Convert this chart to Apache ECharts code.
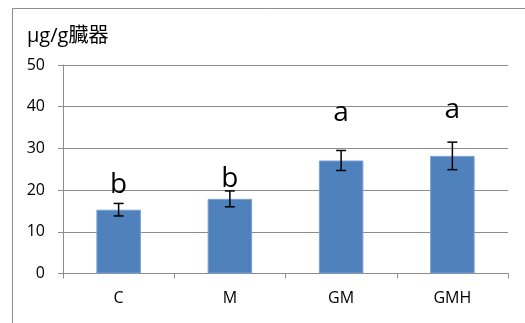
<!DOCTYPE html>
<html>
<head>
<meta charset="utf-8">
<script src="https://cdn.jsdelivr.net/npm/echarts@6/dist/echarts.min.js"></script>
<style>
  html, body { margin: 0; padding: 0; background: #fff; }
  #chart { width: 525px; height: 323px; }
</style>
</head>
<body>
<div id="chart"></div>
<script>
// Organ concentration by group, with error bars and significance letters
const categories = ['C', 'M', 'GM', 'GMH'];
const means = [15.3, 17.9, 27.1, 28.2];
const errors = [1.5, 1.9, 2.4, 3.3];
const letters = ['b', 'b', 'a', 'a'];
// baseline level (in axis units) of each significance letter
const letterLevels = [19.2, 20.8, 36.5, 37.4];
const yTicks = [0, 10, 20, 30, 40, 50];

const chart = echarts.init(document.getElementById('chart'));
const FONT = '"Open Sans", "Noto Sans CJK JP", sans-serif';

chart.setOption({
  animation: false,
  graphic: [{
    type: 'rect',
    shape: { x: 12.5, y: 8.5, width: 600, height: 400 },
    style: { fill: 'none', stroke: '#8c8c8c', lineWidth: 1 },
    silent: true
  }, {
    type: 'text',
    left: 27, top: 26,
    style: { text: 'μg/g臓器', font: '20px ' + FONT, fill: '#000' }
  }],
  grid: { left: 63, right: 17, top: 65, bottom: 49.5 },
  xAxis: {
    type: 'category',
    data: categories,
    axisLine: { lineStyle: { color: '#8c8c8c', width: 1 } },
    axisTick: { show: true, length: 5, lineStyle: { color: '#8c8c8c' } },
    axisLabel: { color: '#000', fontSize: 16, fontFamily: FONT, margin: 17 }
  },
  yAxis: {
    type: 'value',
    min: yTicks[0],
    max: yTicks[yTicks.length - 1],
    interval: 10,
    axisLine: { show: true, lineStyle: { color: '#8c8c8c', width: 1 } },
    axisTick: { show: true, length: 5, lineStyle: { color: '#8c8c8c' } },
    axisLabel: { color: '#000', fontSize: 16, fontFamily: FONT, margin: 18 },
    splitLine: { lineStyle: { color: '#8c8c8c', width: 1.2 } }
  },
  series: [{
    type: 'bar',
    data: means,
    barWidth: '40%',
    itemStyle: { color: '#4F81BD', borderColor: '#7aa0d0', borderWidth: 1 }
  }, {
    type: 'custom',
    data: means.map((m, i) => [i, m - errors[i], m + errors[i], letterLevels[i]]),
    renderItem: function (params, api) {
      const x = api.value(0);
      const lo = api.coord([x, api.value(1)]);
      const hi = api.coord([x, api.value(2)]);
      const lt = api.coord([x, api.value(3)]);
      const half = 5;
      const style = { stroke: '#000', lineWidth: 1.5 };
      return {
        type: 'group',
        children: [
          { type: 'line', shape: { x1: hi[0], y1: hi[1], x2: lo[0], y2: lo[1] }, style: style },
          { type: 'line', shape: { x1: hi[0] - half, y1: hi[1], x2: hi[0] + half, y2: hi[1] }, style: style },
          { type: 'line', shape: { x1: lo[0] - half, y1: lo[1], x2: lo[0] + half, y2: lo[1] }, style: style },
          {
            type: 'text',
            x: lt[0], y: lt[1] + 6,
            style: {
              text: letters[params.dataIndex],
              font: '28px ' + FONT,
              fill: '#000',
              align: 'center',
              verticalAlign: 'bottom'
            }
          }
        ]
      };
    },
    z: 10
  }]
});
</script>
</body>
</html>
